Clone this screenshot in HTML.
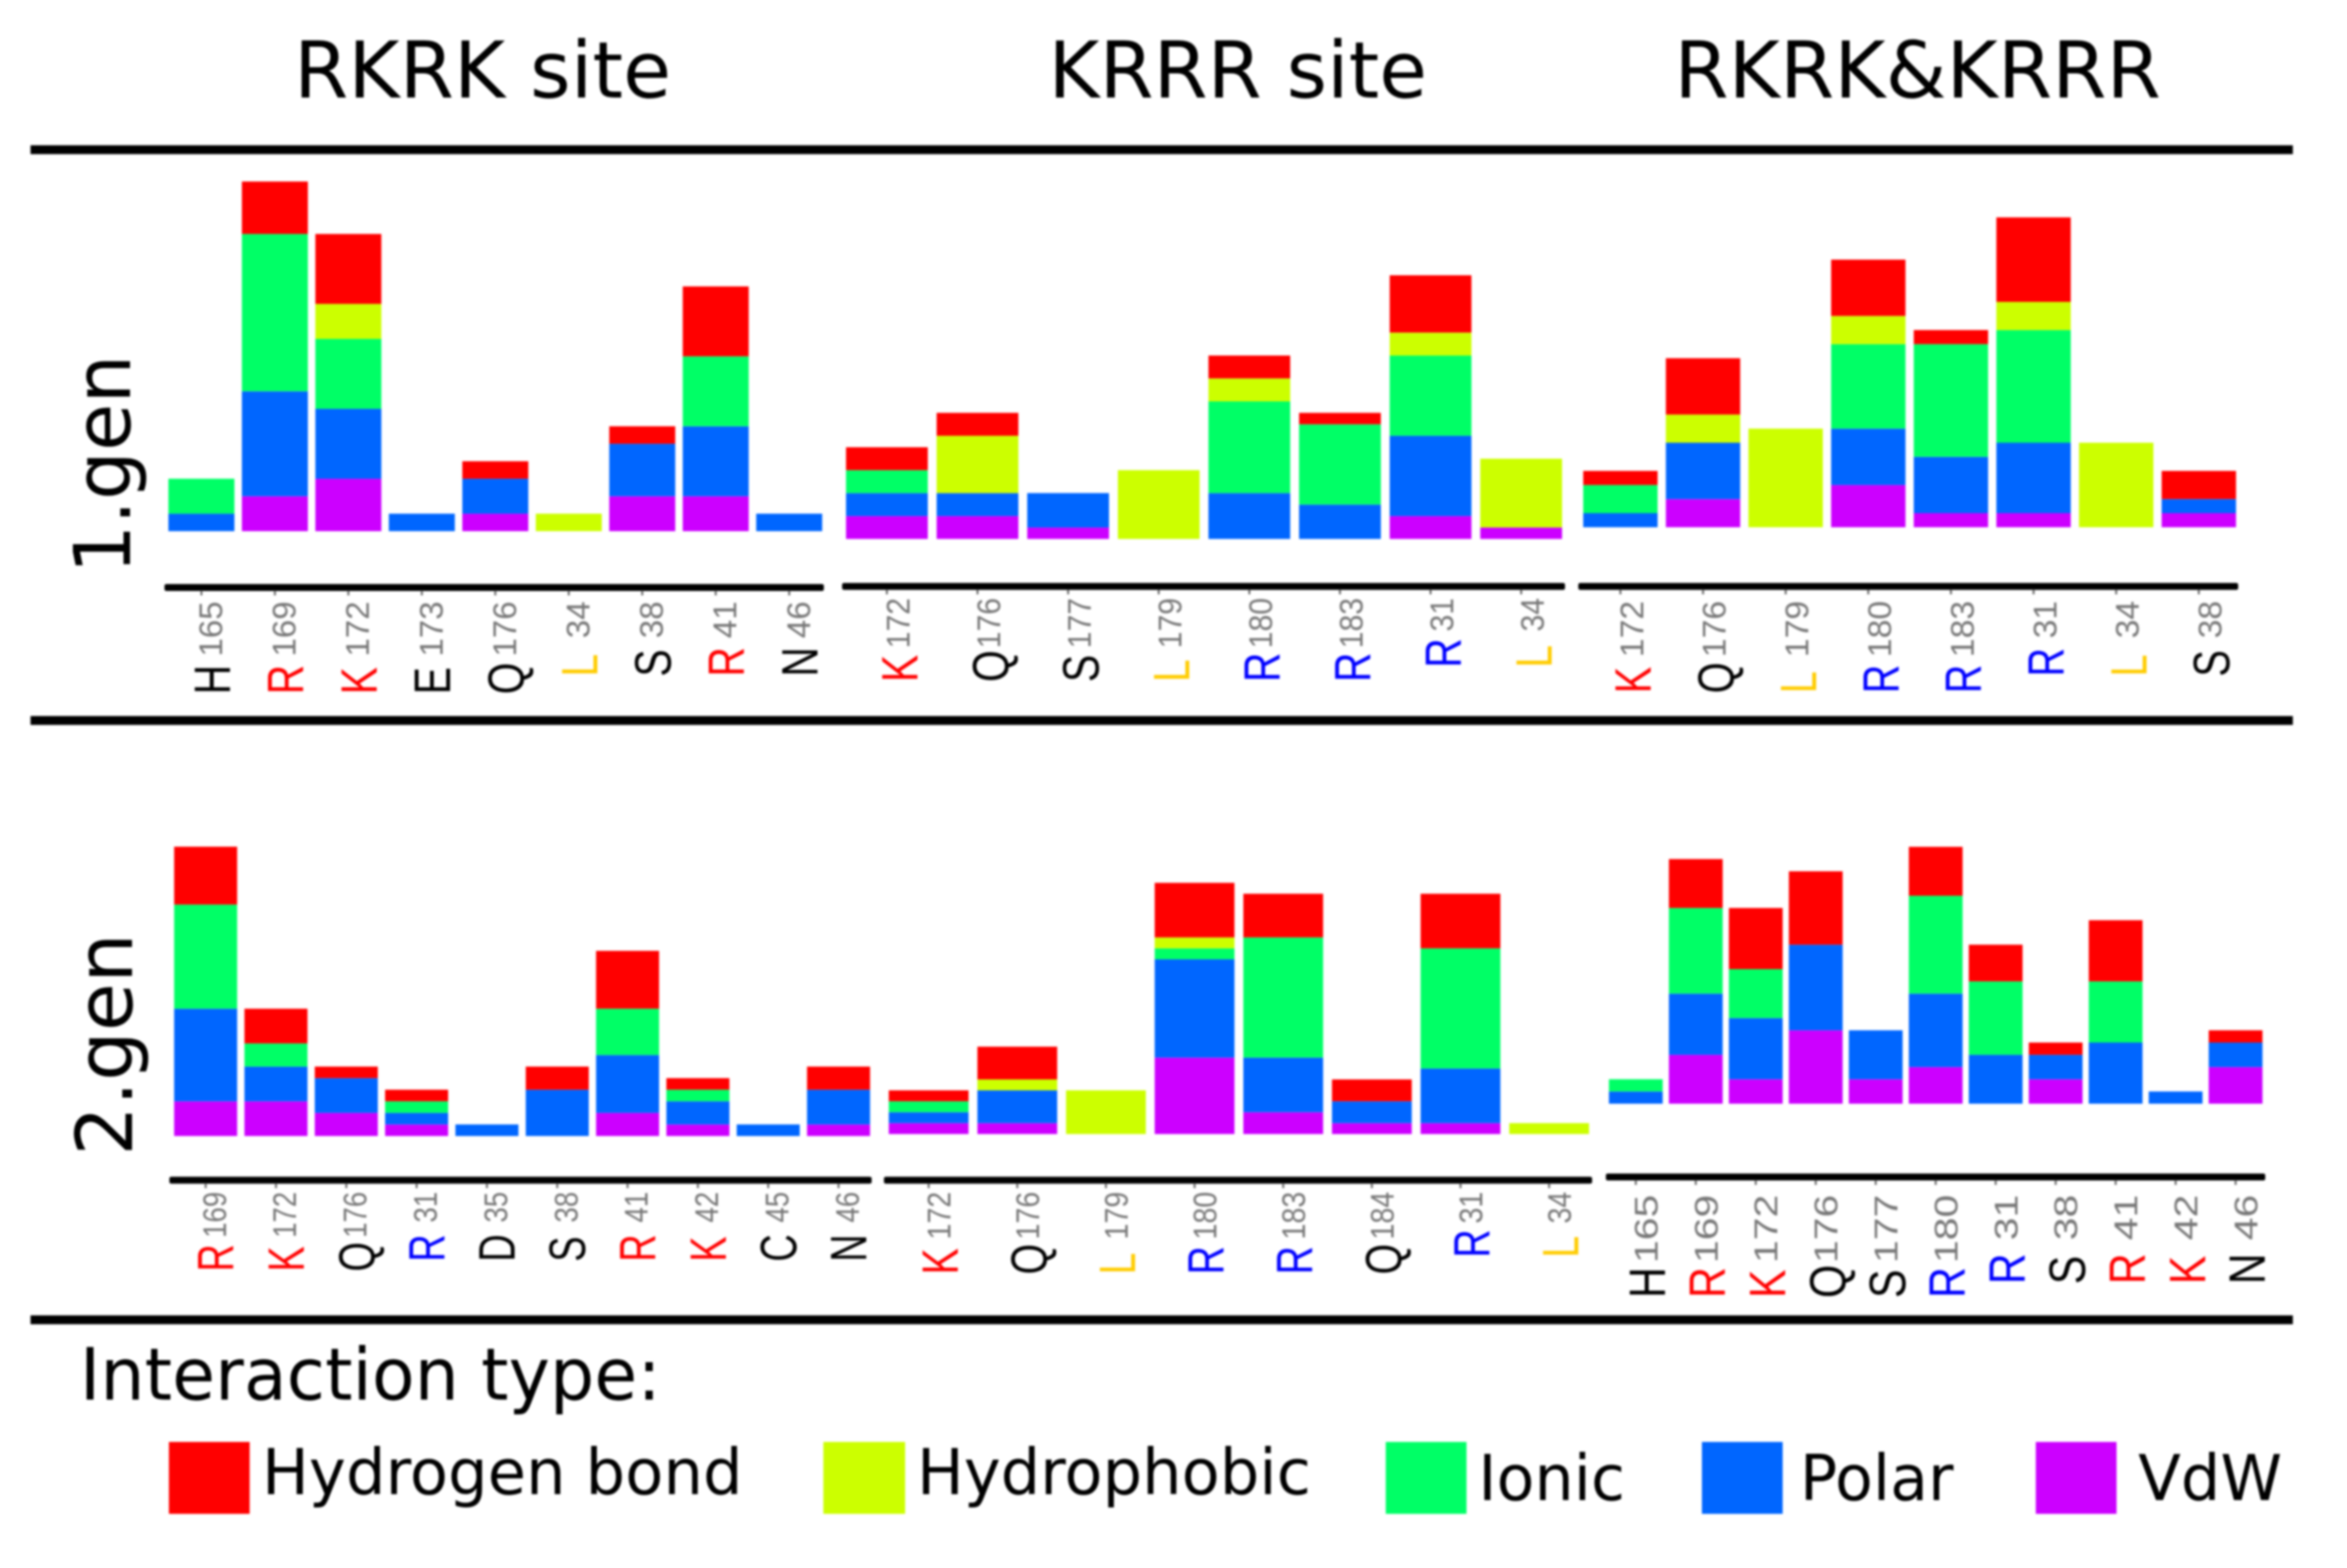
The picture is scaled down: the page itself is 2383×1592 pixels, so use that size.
<!DOCTYPE html>
<html lang="en">
<head>
<meta charset="utf-8">
<title>Interaction types per residue</title>
<style>
html,body{margin:0;padding:0;background:#fff;}
svg{display:block;filter:blur(1px);}
text{font-family:"DejaVu Sans","Liberation Sans",sans-serif;}
</style>
</head>
<body>
<svg id="figure" xmlns="http://www.w3.org/2000/svg" width="2383" height="1592" viewBox="0 0 2383 1592">
  <rect x="0" y="0" width="2383" height="1592" fill="#fff"/>

  <text x="298.5" y="99" font-size="79" textLength="383" lengthAdjust="spacingAndGlyphs" fill="#000">RKRK site</text>
  <text x="1064.5" y="99" font-size="79" textLength="384.5" lengthAdjust="spacingAndGlyphs" fill="#000">KRRR site</text>
  <text x="1700" y="99" font-size="79" textLength="494" lengthAdjust="spacingAndGlyphs" fill="#000">RKRK&amp;KRRR</text>

  <rect x="31" y="147.5" width="2297" height="9" fill="#000"/>
  <rect x="31" y="727" width="2297" height="9" fill="#000"/>
  <rect x="31" y="1335.5" width="2297" height="9" fill="#000"/>

  <text transform="translate(132,582.5) rotate(-90)" font-size="79" textLength="222.5" lengthAdjust="spacingAndGlyphs" fill="#000">1.gen</text>
  <text transform="translate(134,1173.5) rotate(-90)" font-size="79" textLength="226" lengthAdjust="spacingAndGlyphs" fill="#000">2.gen</text>

  <g id="panels"></g>

  <g>
    <text x="81" y="1421" font-size="73" textLength="590" lengthAdjust="spacingAndGlyphs" fill="#000">Interaction type:</text>
    <rect x="171.5" y="1464" width="82" height="73" fill="#ff0000"/>
    <text x="266" y="1517" font-size="64" textLength="488" lengthAdjust="spacingAndGlyphs" fill="#000">Hydrogen bond</text>
    <rect x="836" y="1464" width="83" height="73" fill="#ccff00"/>
    <text x="931" y="1517" font-size="64" textLength="400" lengthAdjust="spacingAndGlyphs" fill="#000">Hydrophobic</text>
    <rect x="1407" y="1464" width="82" height="73" fill="#00ff66"/>
    <text x="1501" y="1523" font-size="64" textLength="149" lengthAdjust="spacingAndGlyphs" fill="#000">Ionic</text>
    <rect x="1728" y="1464" width="82" height="73" fill="#0066ff"/>
    <text x="1827.5" y="1523" font-size="64" textLength="156" lengthAdjust="spacingAndGlyphs" fill="#000">Polar</text>
    <rect x="2067" y="1464" width="82" height="73" fill="#cc00ff"/>
    <text x="2171" y="1523" font-size="64" textLength="146" lengthAdjust="spacingAndGlyphs" fill="#000">VdW</text>
  </g>
</svg>

<script>
// Panel 1: first generation, RKRK site
const gen1RkrkLetters = ['H','R','K','E','Q','L','S','R','N'];
const gen1RkrkNumbers = ['165','169','172','173','176','34','38','41','46'];
const gen1RkrkKinds   = ['k','r','r','k','k','y','k','r','k'];
const gen1RkrkVdw     = [0,2,3,0,1,0,2,2,0];
const gen1RkrkPolar   = [1,6,4,1,2,0,3,4,1];
const gen1RkrkIonic   = [2,9,4,0,0,0,0,4,0];
const gen1RkrkHydro   = [0,0,2,0,0,1,0,0,0];
const gen1RkrkHbond   = [0,3,4,0,1,0,1,4,0];

// Panel 2: first generation, KRRR site
const gen1KrrrLetters = ['K','Q','S','L','R','R','R','L'];
const gen1KrrrNumbers = ['172','176','177','179','180','183','31','34'];
const gen1KrrrKinds   = ['r','k','k','y','b','b','b','y'];
const gen1KrrrVdw     = [2,2,1,0,0,0,2,1];
const gen1KrrrPolar   = [2,2,3,0,4,3,7,0];
const gen1KrrrIonic   = [2,0,0,0,8,7,7,0];
const gen1KrrrHydro   = [0,5,0,6,2,0,2,6];
const gen1KrrrHbond   = [2,2,0,0,2,1,5,0];

// Panel 3: first generation, both sites
const gen1BothLetters = ['K','Q','L','R','R','R','L','S'];
const gen1BothNumbers = ['172','176','179','180','183','31','34','38'];
const gen1BothKinds   = ['r','k','y','b','b','b','y','k'];
const gen1BothVdw     = [0,2,0,3,1,1,0,1];
const gen1BothPolar   = [1,4,0,4,4,5,0,1];
const gen1BothIonic   = [2,0,0,6,8,8,0,0];
const gen1BothHydro   = [0,2,7,2,0,2,6,0];
const gen1BothHbond   = [1,4,0,4,1,6,0,2];

// Panel 4: second generation, RKRK site
const gen2RkrkLetters = ['R','K','Q','R','D','S','R','K','C','N'];
const gen2RkrkNumbers = ['169','172','176','31','35','38','41','42','45','46'];
const gen2RkrkKinds   = ['r','r','k','b','k','k','r','r','k','k'];
const gen2RkrkVdw     = [3,3,2,1,0,0,2,1,0,1];
const gen2RkrkPolar   = [8,3,3,1,1,4,5,2,1,3];
const gen2RkrkIonic   = [9,2,0,1,0,0,4,1,0,0];
const gen2RkrkHydro   = [0,0,0,0,0,0,0,0,0,0];
const gen2RkrkHbond   = [5,3,1,1,0,2,5,1,0,2];

// Panel 5: second generation, KRRR site
const gen2KrrrLetters = ['K','Q','L','R','R','Q','R','L'];
const gen2KrrrNumbers = ['172','176','179','180','183','184','31','34'];
const gen2KrrrKinds   = ['r','k','y','b','b','k','b','y'];
const gen2KrrrVdw     = [1,1,0,7,2,1,1,0];
const gen2KrrrPolar   = [1,3,0,9,5,2,5,0];
const gen2KrrrIonic   = [1,0,0,1,11,0,11,0];
const gen2KrrrHydro   = [0,1,4,1,0,0,0,1];
const gen2KrrrHbond   = [1,3,0,5,4,2,5,0];

// Panel 6: second generation, both sites
const gen2BothLetters = ['H','R','K','Q','S','R','R','S','R','K','N'];
const gen2BothNumbers = ['165','169','172','176','177','180','31','38','41','42','46'];
const gen2BothKinds   = ['k','r','r','k','k','b','b','k','r','r','k'];
const gen2BothVdw     = [0,4,2,6,2,3,0,2,0,0,3];
const gen2BothPolar   = [1,5,5,7,4,6,4,2,5,1,2];
const gen2BothIonic   = [1,7,4,0,0,8,6,0,5,0,0];
const gen2BothHydro   = [0,0,0,0,0,0,0,0,0,0,0];
const gen2BothHbond   = [0,4,5,6,0,4,3,1,5,0,1];

const seriesNames  = ['vdw','polar','ionic','hydrophobic','hydrogen-bond'];
const seriesColors = ['#cc00ff','#0066ff','#00ff66','#ccff00','#ff0000'];
const kindColors   = {k:'#000000', r:'#ff0000', b:'#0000ff', y:'#ffcc00'};

const panels = [
  {letters:gen1RkrkLetters, numbers:gen1RkrkNumbers, kinds:gen1RkrkKinds,
   series:[gen1RkrkVdw,gen1RkrkPolar,gen1RkrkIonic,gen1RkrkHydro,gen1RkrkHbond],
   x0:171, step:74.6, w:67, base:539.3, unit:17.75,
   axisY:596.5, axisL:167, axisR:836.5, numTop:610.5, numScale:1.02, letScale:.8, bot3:705, bot2:687, off:11},
  {letters:gen1KrrrLetters, numbers:gen1KrrrNumbers, kinds:gen1KrrrKinds,
   series:[gen1KrrrVdw,gen1KrrrPolar,gen1KrrrIonic,gen1KrrrHydro,gen1KrrrHbond],
   x0:859, step:92, w:83, base:547.2, unit:11.64,
   axisY:595.4, axisL:855, axisR:1589, numTop:607, numScale:.93, letScale:.8, bot3:692.5, bot2:678, off:13},
  {letters:gen1BothLetters, numbers:gen1BothNumbers, kinds:gen1BothKinds,
   series:[gen1BothVdw,gen1BothPolar,gen1BothIonic,gen1BothHydro,gen1BothHbond],
   x0:1607.5, step:83.9, w:75.5, base:535.3, unit:14.3,
   axisY:595.4, axisL:1602.5, axisR:2272.5, numTop:610, numScale:1.04, letScale:.78, bot3:704, bot2:687, off:13},
  {letters:gen2RkrkLetters, numbers:gen2RkrkNumbers, kinds:gen2RkrkKinds,
   series:[gen2RkrkVdw,gen2RkrkPolar,gen2RkrkIonic,gen2RkrkHydro,gen2RkrkHbond],
   x0:176.8, step:71.4, w:64, base:1153.4, unit:11.75,
   axisY:1198.3, axisL:172, axisR:885, numTop:1210, numScale:.85, letScale:.74, bot3:1291, bot2:1281, off:10.5},
  {letters:gen2KrrrLetters, numbers:gen2KrrrNumbers, kinds:gen2KrrrKinds,
   series:[gen2KrrrVdw,gen2KrrrPolar,gen2KrrrIonic,gen2KrrrHydro,gen2KrrrHbond],
   x0:902.4, step:90, w:81, base:1151.4, unit:11.09,
   axisY:1198.3, axisL:897.5, axisR:1616.5, numTop:1210, numScale:.88, letScale:.77, bot3:1294, bot2:1277, off:12},
  {letters:gen2BothLetters, numbers:gen2BothNumbers, kinds:gen2BothKinds,
   series:[gen2BothVdw,gen2BothPolar,gen2BothIonic,gen2BothHydro,gen2BothHbond],
   x0:1633.6, step:60.9, w:54.6, base:1120.6, unit:12.42,
   axisY:1195, axisL:1630.5, axisR:2300, numTop:1213, numScale:1.26, letScale:.84, bot3:1318, bot2:1304, off:12}
];

const SVGNS = 'http://www.w3.org/2000/svg';
const LABEL_FONT = '"Liberation Sans", sans-serif';
const root = document.getElementById('panels');

function xBand(p, i) { return p.x0 + i * p.step; }
function xCenter(p, i) { return xBand(p, i) + p.w / 2; }
function yValue(p, v) { return p.base - v * p.unit; }

panels.forEach(function (p) {
  const g = document.createElementNS(SVGNS, 'g');
  
  
  root.appendChild(g);

  // Stacked bars
  p.letters.forEach(function (letter, i) {
    let cum = 0;
    p.series.forEach(function (values, s) {
      const v = values[i];
      if (!v) return;
      const seg = document.createElementNS(SVGNS, 'rect');
      
      
      seg.setAttribute('x', xBand(p, i));
      seg.setAttribute('y', yValue(p, cum + v));
      seg.setAttribute('width', p.w);
      seg.setAttribute('height', v * p.unit);
      seg.setAttribute('fill', seriesColors[s]);
      g.appendChild(seg);
      cum += v;
    });
  });

  // Axis line
  const axis = document.createElementNS(SVGNS, 'rect');
  
  
  axis.setAttribute('x', p.axisL);
  axis.setAttribute('y', p.axisY - 3.5);
  axis.setAttribute('width', p.axisR - p.axisL);
  axis.setAttribute('height', 7);
  axis.setAttribute('rx', 2);
  axis.setAttribute('fill', '#000');
  g.appendChild(axis);

  // Ticks and residue labels
  p.letters.forEach(function (letter, i) {
    const cx = xCenter(p, i);

    const tick = document.createElementNS(SVGNS, 'rect');
    
    
    tick.setAttribute('x', cx - 1);
    tick.setAttribute('y', p.axisY + 3);
    tick.setAttribute('width', 2);
    tick.setAttribute('height', 5);
    tick.setAttribute('fill', '#666');
    g.appendChild(tick);

    const num = document.createElementNS(SVGNS, 'text');
    
    
    num.setAttribute('font-size', 33);
    num.setAttribute('fill', '#777777');
    num.setAttribute('text-anchor', 'end');
    num.style.fontFamily = LABEL_FONT;
    num.setAttribute('transform', 'translate(' + (cx + p.off + 10) + ',' + p.numTop + ') rotate(-90) scale(' + p.numScale + ',1)');
    num.textContent = p.numbers[i];
    g.appendChild(num);

    const bottom = p.numbers[i].length === 3 ? p.bot3 : p.bot2;
    const let1 = document.createElementNS(SVGNS, 'text');
    
    
    let1.setAttribute('font-size', 52);
    let1.setAttribute('fill', kindColors[p.kinds[i]]);
    let1.style.fontFamily = LABEL_FONT;
    let1.setAttribute('transform', 'translate(' + (cx + p.off + 17.8) + ',' + bottom + ') rotate(-90) scale(' + p.letScale + ',1)');
    let1.textContent = letter;
    g.appendChild(let1);
  });
});
</script>
</body>
</html>
